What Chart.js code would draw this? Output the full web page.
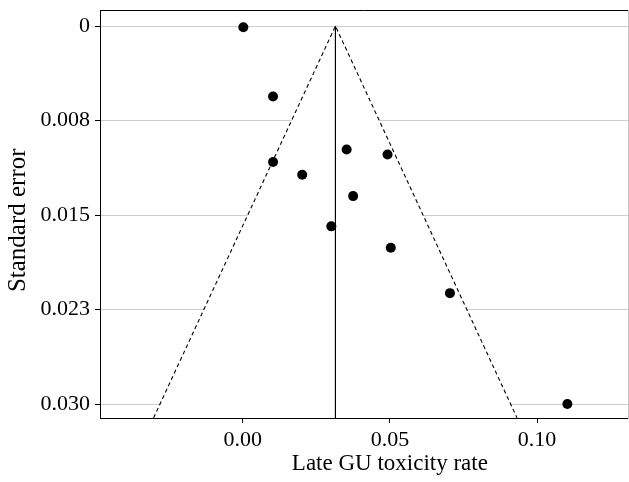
<!DOCTYPE html>
<html lang="en">
<head>
<meta charset="UTF-8">
<title>Funnel plot — Late GU toxicity rate</title>
<script src="https://cdn.jsdelivr.net/npm/chart.js@4"></script>
<style>
  html, body { margin: 0; padding: 0; background: #fff; overflow: hidden; }
  #wrap { width: 629px; height: 482px; }
</style>
</head>
<body>
<div id="wrap"><canvas id="funnel"></canvas></div>
<script>
// study estimates (x) and their standard errors (y)
const rate = [0.0002, 0.0103, 0.0103, 0.0202, 0.0353, 0.0492, 0.0375, 0.0301, 0.0503, 0.0704, 0.1103]
const stdErr = [0.0001, 0.0056, 0.0108, 0.0118, 0.0098, 0.0102, 0.0135, 0.0159, 0.0176, 0.0212, 0.0300]

// pooled estimate and the pseudo-confidence funnel (left bottom, apex, right bottom)
const pooled = 0.0315
const funnelX = [-0.0303, 0.0315, 0.0932]
const funnelY = [0.0311, 0, 0.0311]

const xTicks = [0, 0.05, 0.10]
const xTickLabels = ['0.00', '0.05', '0.10']
const yTicks = [0, 0.0075, 0.015, 0.0225, 0.030]
const yTickLabels = ['0', '0.008', '0.015', '0.023', '0.030']
const xRange = [-0.0485, 0.1309]
const yRange = [-0.00127, 0.03111]

Chart.defaults.font.family = '"Liberation Serif", "Times New Roman", serif'
Chart.defaults.font.size = 22
Chart.defaults.color = '#000'

// box round the plot area (right side is cut by the picture edge, so it shows faint)
const frame = {
  id: 'frame',
  afterDraw(chart) {
    const { ctx, chartArea: a } = chart
    ctx.save()
    ctx.lineWidth = 1
    ctx.strokeStyle = '#c4c4c4'
    ctx.beginPath()
    ctx.moveTo(a.right + 0.5, a.top)
    ctx.lineTo(a.right + 0.5, a.bottom + 1)
    ctx.stroke()
    ctx.strokeStyle = '#000'
    ctx.beginPath()
    ctx.moveTo(a.right, a.top + 0.5)
    ctx.lineTo(a.left + 0.5, a.top + 0.5)
    ctx.lineTo(a.left + 0.5, a.bottom + 0.5)
    ctx.lineTo(a.right, a.bottom + 0.5)
    ctx.stroke()
    ctx.restore()
  }
}

const noPad = s => { s.paddingLeft = 0; s.paddingRight = 0; s.paddingTop = 0; s.paddingBottom = 0 }

new Chart(document.getElementById('funnel'), {
  type: 'scatter',
  data: {
    datasets: [
      {
        label: 'studies',
        order: 0,
        data: rate.map((x, i) => ({ x, y: stdErr[i] })),
        pointRadius: 5,
        pointHoverRadius: 5,
        pointBackgroundColor: '#000',
        pointBorderWidth: 0
      },
      {
        type: 'line',
        label: 'pooled',
        order: 1,
        data: [{ x: pooled, y: 0 }, { x: pooled, y: yRange[1] }],
        borderColor: '#000',
        borderWidth: 1,
        pointRadius: 0,
        fill: false
      },
      {
        type: 'line',
        label: 'funnel',
        order: 2,
        data: funnelX.map((x, i) => ({ x, y: funnelY[i] })),
        borderColor: '#000',
        borderWidth: 1.1,
        borderDash: [4, 3],
        pointRadius: 0,
        tension: 0,
        fill: { value: yRange[1] },
        backgroundColor: '#fff'
      }
    ]
  },
  options: {
    responsive: true,
    maintainAspectRatio: false,
    animation: false,
    layout: { autoPadding: false, padding: { top: 10, right: 1, left: 0, bottom: 0 } },
    plugins: { legend: { display: false }, tooltip: { enabled: false } },
    scales: {
      x: {
        type: 'linear',
        min: xRange[0],
        max: xRange[1],
        afterBuildTicks: s => { s.ticks = xTicks.map(value => ({ value })) },
        afterFit: s => { s.height = 64; noPad(s) },
        ticks: { padding: 4, callback: (v, i) => xTickLabels[i] },
        grid: { drawOnChartArea: false, tickLength: 5, tickColor: '#000' },
        border: { color: '#000', width: 1 },
        title: {
          display: true,
          text: '         Late GU toxicity rate',
          font: { size: 23 },
          padding: { top: 0, bottom: 4 }
        }
      },
      y: {
        type: 'linear',
        reverse: true,
        min: yRange[0],
        max: yRange[1],
        afterBuildTicks: s => { s.ticks = yTicks.map(value => ({ value })) },
        afterFit: s => { s.width = 100; noPad(s) },
        ticks: { padding: 5, callback: (v, i) => yTickLabels[i] },
        grid: { color: '#cccccc', lineWidth: 1, tickLength: 5, tickColor: '#000' },
        border: { color: '#000', width: 1 },
        title: {
          display: true,
          text: 'Standard error  ',
          font: { size: 25 },
          padding: { top: 3, bottom: 0 }
        }
      }
    }
  },
  plugins: [frame]
})
</script>
</body>
</html>
